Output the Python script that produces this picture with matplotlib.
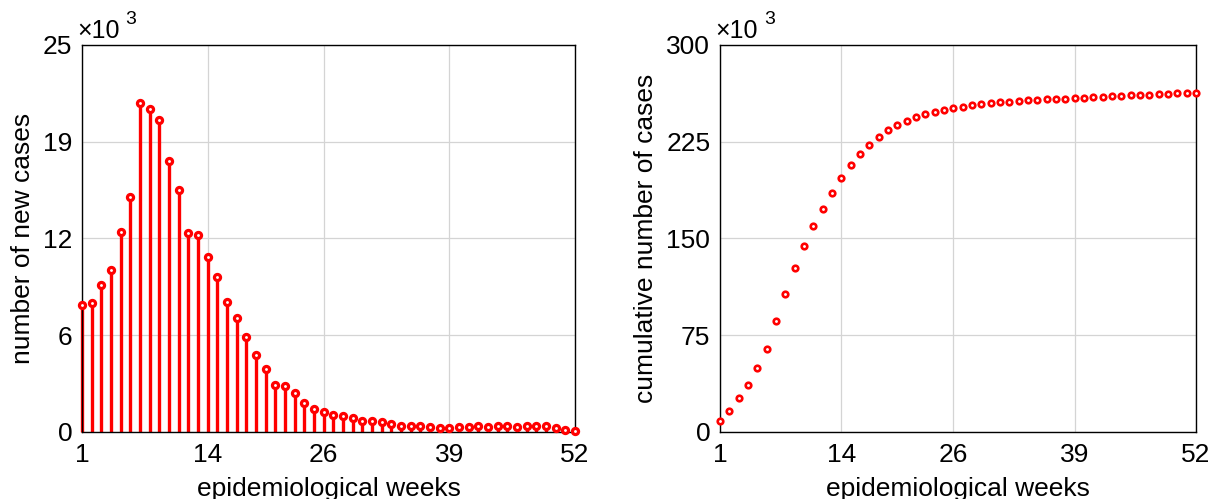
import matplotlib as mpl
mpl.use('Agg')
import matplotlib.pyplot as plt
import numpy as np

mpl.rcParams['font.family'] = ['Liberation Sans', 'DejaVu Sans']
mpl.rcParams['font.size'] = 19

# weekly new cases (thousands), epidemiological weeks 1..52
weeks = np.arange(1, 53)
new_cases = np.array([
    8.18, 8.35, 9.52, 10.44, 12.92, 15.16, 21.27, 20.85, 20.13, 17.53,
    15.63, 12.86, 12.71, 11.30, 10.01, 8.40, 7.38, 6.16, 4.99, 4.09,
    3.02, 2.97, 2.50, 1.90, 1.51, 1.27, 1.10, 1.01, 0.90, 0.73,
    0.69, 0.65, 0.52, 0.41, 0.39, 0.37, 0.34, 0.28, 0.28, 0.30,
    0.32, 0.39, 0.34, 0.37, 0.39, 0.34, 0.37, 0.41, 0.37, 0.26,
    0.15, 0.06,
])
cumulative = np.cumsum(new_cases)

xticks = [1, 14, 26, 39, 52]
yticks_new = [0, 6.25, 12.5, 18.75, 25]
yticklabels_new = ['0', '6', '12', '19', '25']
yticks_cum = [0, 75, 150, 225, 300]
yticklabels_cum = ['0', '75', '150', '225', '300']

fig = plt.figure(figsize=(12.22, 4.99), dpi=100)
ax1 = fig.add_axes([0.0671, 0.1343, 0.4034, 0.7756])
ax2 = fig.add_axes([0.5892, 0.1343, 0.3895, 0.7756])


def style(ax, yticks, ylabels, ylabel, exp_x):
    ax.set_xlim(1, 52)
    ax.set_ylim(yticks[0], yticks[-1])
    ax.set_xticks(xticks)
    ax.set_yticks(yticks)
    ax.set_yticklabels(ylabels)
    ax.grid(True, color='#d4d4d4', linewidth=0.9)
    ax.set_axisbelow(True)
    ax.tick_params(axis='x', length=0, pad=8, labelsize=19)
    ax.tick_params(axis='y', length=0, pad=7, labelsize=19)
    for s in ax.spines.values():
        s.set_color('black')
        s.set_linewidth(1.0)
    ax.set_xlabel('epidemiological weeks', fontsize=19, labelpad=7)
    ax.set_ylabel(ylabel, fontsize=19, labelpad=6)
    # exponent label above the y axis
    ax.text(-0.009, 1.006, '\u00d710', transform=ax.transAxes,
            fontsize=18, ha='left', va='bottom')
    ax.text(exp_x, 1.045, '3', transform=ax.transAxes,
            fontsize=14, ha='left', va='bottom')


# new cases per week
ax1.vlines(weeks, 0, new_cases, color='red', linewidth=2.4, clip_on=False)
ax1.plot(weeks, new_cases, 'o', color='red', markerfacecolor='white',
         markersize=4.4, markeredgewidth=2.3, clip_on=False, zorder=3)
style(ax1, yticks_new, yticklabels_new, 'number of new cases', 0.088)

# cumulative cases
ax2.plot(weeks, cumulative, 'o', color='red', markerfacecolor='white',
         markersize=4.0, markeredgewidth=1.9, clip_on=False, zorder=3)
style(ax2, yticks_cum, yticklabels_cum, 'cumulative number of cases', 0.093)

fig.savefig('out.png', dpi=100)
